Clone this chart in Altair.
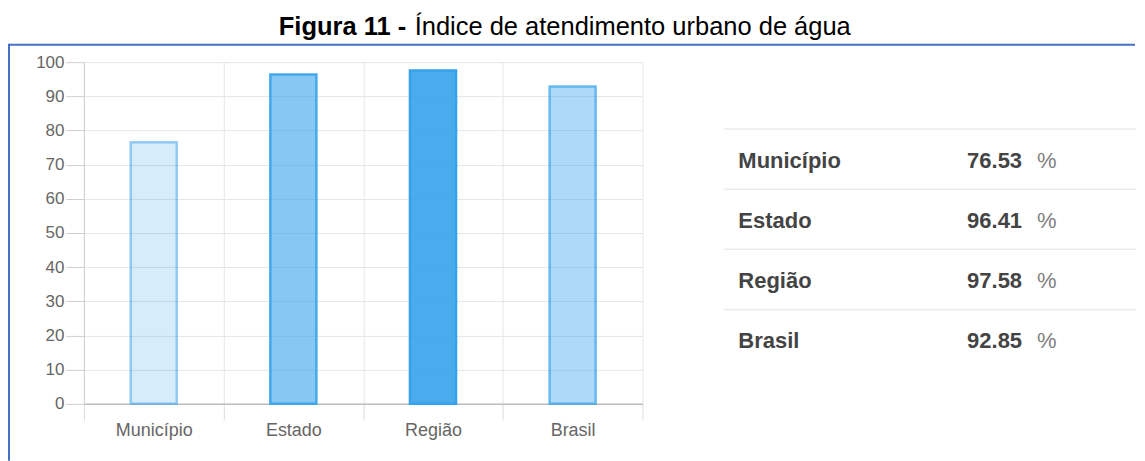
import altair as alt
import pandas as pd

# ---------------- data ----------------
categories = ["Município", "Estado", "Região", "Brasil"]
values = [76.53, 96.41, 97.58, 92.85]
value_labels = ["76.53", "96.41", "97.58", "92.85"]
y_ticks = [0, 10, 20, 30, 40, 50, 60, 70, 80, 90, 100]
title_bold = ["Figura 11 -"]
title_rest = ["Índice de atendimento urbano de água"]
unit = "%"

# ---------------- styles ----------------
BASE = "#36a2eb"
fill_opacity = [0.2, 0.6, 0.9, 0.4]
stroke_opacity = [0.5, 0.9, 1.0, 0.7]
FONT = "Liberation Sans"
FRAME = "#4472c4"

df = pd.DataFrame({"cat": categories, "value": values, "label": value_labels})
one = pd.DataFrame({"k": [0]})

W, H = 559, 342

x_enc = alt.X(
    "cat:N",
    sort=categories,
    scale=alt.Scale(domain=categories, paddingInner=0, paddingOuter=0),
    axis=alt.Axis(
        title=None, labelAngle=0, tickBand="extent", grid=True,
        gridColor="#e6e6e6", tickColor="#dcdcdc", tickSize=16,
        domainColor="#bdbdbd", domainWidth=1.5,
        labelColor="#666666", labelFont=FONT, labelFontSize=18, labelPadding=2,
    ),
)
y_enc = alt.Y(
    "value:Q",
    scale=alt.Scale(domain=[0, 100], nice=False),
    axis=alt.Axis(
        values=y_ticks, title=None, grid=True, gridColor="#e6e6e6",
        tickSize=18, tickColor="#cfcfcf", domainColor="#cfcfcf",
        labelColor="#666666", labelFont=FONT, labelFontSize=17, labelPadding=2,
    ),
)

bars = alt.Chart(df).mark_bar(
    width={"band": 0.33}, fill=BASE, stroke=BASE, strokeWidth=2.5
).encode(
    x=x_enc,
    y=y_enc,
    fillOpacity=alt.FillOpacity(
        "cat:N", scale=alt.Scale(type="ordinal", domain=categories, range=fill_opacity), legend=None
    ),
    strokeOpacity=alt.StrokeOpacity(
        "cat:N", scale=alt.Scale(type="ordinal", domain=categories, range=stroke_opacity), legend=None
    ),
)

# decorations: page anchor, title, document frame
anchor = alt.Chart(one).mark_rect(opacity=0).encode(
    x=alt.value(-76), x2=alt.value(-70), y=alt.value(-54), y2=alt.value(-50)
)
t_bold = alt.Chart(pd.DataFrame({"t": title_bold})).mark_text(
    align="left", baseline="alphabetic", font=FONT, fontSize=25.5, fontWeight="bold", color="#000000"
).encode(text="t:N", x=alt.value(195), y=alt.value(-27))
t_rest = alt.Chart(pd.DataFrame({"t": title_rest})).mark_text(
    align="left", baseline="alphabetic", font=FONT, fontSize=25.5, color="#000000"
).encode(text="t:N", x=alt.value(331), y=alt.value(-27))
frame_top = alt.Chart(one).mark_rule(color=FRAME, strokeWidth=2).encode(
    x=alt.value(-75), x2=alt.value(1052), y=alt.value(-17.5)
)
frame_left = alt.Chart(one).mark_rule(color=FRAME, strokeWidth=2).encode(
    x=alt.value(-75), y=alt.value(-18.5), y2=alt.value(399)
)

left = alt.layer(anchor, bars, t_bold, t_rest, frame_top, frame_left).properties(width=W, height=H)

# ---------------- table ----------------
y_row = alt.Y(
    "cat:N", sort=categories,
    scale=alt.Scale(type="point", domain=categories, range=[98.5, 279], padding=0),
    axis=None,
)
tbase = alt.Chart(df)
row_lines = tbase.mark_rule(color="#ebebeb", strokeWidth=1.5, yOffset=-31.5).encode(
    y=y_row, x=alt.value(0), x2=alt.value(412)
)
row_names = tbase.mark_text(
    align="left", baseline="middle", font=FONT, fontSize=22, fontWeight="bold", color="#444444"
).encode(y=y_row, text="cat:N", x=alt.value(14))
row_vals = tbase.mark_text(
    align="right", baseline="middle", font=FONT, fontSize=22, fontWeight="bold", color="#444444"
).encode(y=y_row, text="label:N", x=alt.value(298))
row_unit = tbase.mark_text(
    align="left", baseline="middle", font=FONT, fontSize=22, color="#808080", text=unit
).encode(y=y_row, x=alt.value(313))

right = alt.layer(row_lines, row_names, row_vals, row_unit).properties(width=412, height=H)

chart = alt.hconcat(left, right, spacing=82, bounds="flush").properties(
    padding={"left": 0, "top": 0, "right": 0, "bottom": 0}
).configure_view(stroke=None)

chart.save("out.html", embed_options={"renderer": "svg", "actions": False})
